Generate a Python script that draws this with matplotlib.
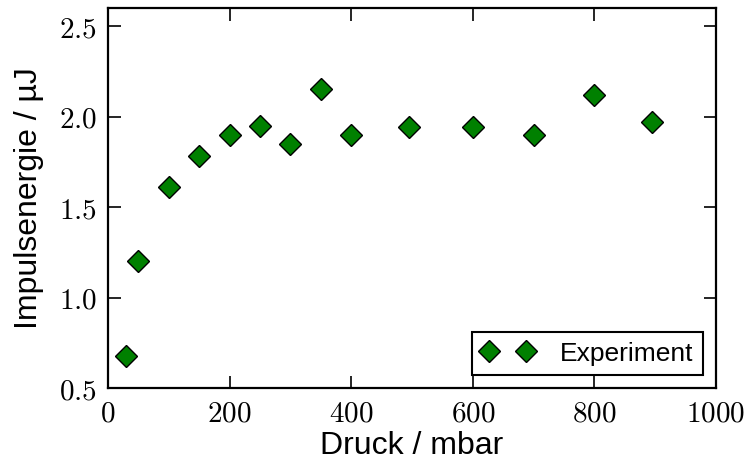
import matplotlib
matplotlib.use("Agg")
import matplotlib.pyplot as plt
from matplotlib.ticker import FuncFormatter, MultipleLocator

# Pulse energy vs. gas pressure
druck_mbar = [30, 50, 100, 150, 200, 250, 300, 350, 400, 495, 600, 700, 800, 895]
energie_uJ = [0.68, 1.20, 1.61, 1.78, 1.90, 1.95, 1.85, 2.15, 1.90, 1.94, 1.94, 1.90, 2.12, 1.97]

plt.rcParams["mathtext.fontset"] = "cm"
plt.rcParams["font.family"] = ["Liberation Sans", "DejaVu Sans"]

fig = plt.figure(figsize=(7.47, 4.62), dpi=100, facecolor="white")
ax = fig.add_axes([0.1446, 0.160, 0.8139, 0.8227])

ax.plot(druck_mbar, energie_uJ, linestyle="none", marker="D", markersize=11.5,
        markerfacecolor=(0, 0.5, 0), markeredgecolor="black", markeredgewidth=1.0,
        label="Experiment")

ax.set_xlim(0, 1000)
ax.set_ylim(0.5, 2.6)
ax.xaxis.set_major_locator(MultipleLocator(200))
ax.yaxis.set_major_locator(MultipleLocator(0.5))
ax.xaxis.set_major_formatter(FuncFormatter(lambda v, p: r"$%d$" % round(v)))
ax.yaxis.set_major_formatter(FuncFormatter(lambda v, p: r"$%.1f$" % v))

for s in ax.spines.values():
    s.set_linewidth(1.6)
ax.tick_params(which="major", direction="in", top=True, right=True,
               length=9, width=1.2, labelsize=21, pad=8)

ax.set_xlabel("Druck / mbar", fontsize=23, labelpad=3)
ax.set_ylabel("Impulsenergie / µJ", fontsize=23, labelpad=11)

leg = ax.legend(loc="lower right", numpoints=2, fontsize=19, fancybox=False,
                framealpha=1, edgecolor="black", borderpad=0.35,
                handletextpad=1.0, borderaxespad=0.5, handlelength=2.0)
leg.get_frame().set_linewidth(1.5)

fig.savefig("out.png", dpi=100, facecolor="white")
